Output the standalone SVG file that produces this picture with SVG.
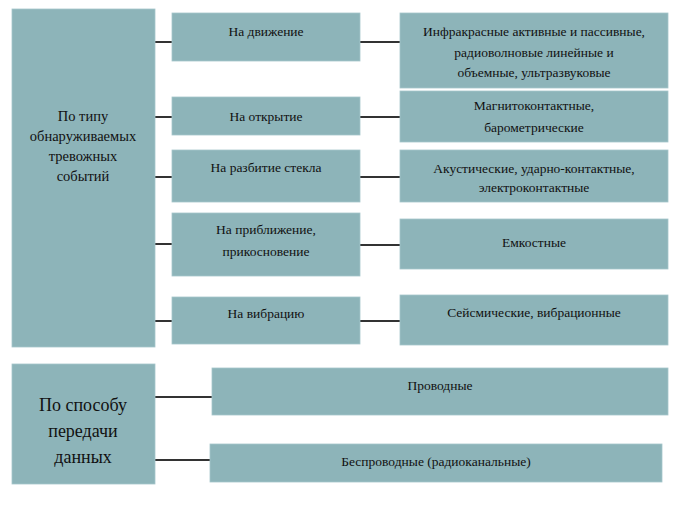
<svg xmlns="http://www.w3.org/2000/svg" width="682" height="510" viewBox="0 0 682 510">
<style>
.box{fill:#8db4b9;stroke:#a6c6ca;stroke-width:0.8}
.t{font-size:13.5px}
.tl{font-size:14.5px}
.tb{font-size:18px}
.c{stroke:#333;stroke-width:2;fill:none}
</style>
<rect width="682" height="510" fill="#fff"/>
<g id="connectors">
<path class="c" d="M155 42H172M155 117H172M155 177H172M155 244H172M155 321H172"/>
<path class="c" d="M360 42H400M360 117H400M360 177H400M360 245H400M360 321H400"/>
<path class="c" d="M155 397H212M155 460H210"/>
</g>
<g font-family="Liberation Serif, DejaVu Serif, serif" fill="#111" text-anchor="middle">
<g id="n-type"><rect class="box" x="12" y="9" width="143" height="338"/>
<text class="tl" x="83" y="121">По типу</text><text class="tl" x="83" y="141">обнаруживаемых</text><text class="tl" x="83" y="161">тревожных</text><text class="tl" x="83" y="181">событий</text></g>
<g id="n-move"><rect class="box" x="172" y="13" width="188" height="48"/><text class="t" x="266" y="36">На движение</text></g>
<g id="n-open"><rect class="box" x="172" y="97" width="188" height="38"/><text class="t" x="266" y="121">На открытие</text></g>
<g id="n-glass"><rect class="box" x="172" y="150" width="188" height="52"/><text class="t" x="266" y="172">На разбитие стекла</text></g>
<g id="n-approach"><rect class="box" x="172" y="213" width="188" height="63"/><text class="t" x="266" y="234">На приближение,</text><text class="t" x="266" y="256">прикосновение</text></g>
<g id="n-vibr"><rect class="box" x="172" y="297" width="188" height="47"/><text class="t" x="266" y="318">На вибрацию</text></g>
<g id="n-ir"><rect class="box" x="400" y="13" width="268" height="75"/><text class="t" x="534" y="36">Инфракрасные активные и пассивные,</text><text class="t" x="534" y="57">радиоволновые линейные и</text><text class="t" x="534" y="77">объемные, ультразвуковые</text></g>
<g id="n-magn"><rect class="box" x="400" y="91" width="268" height="51"/><text class="t" x="534" y="110">Магнитоконтактные,</text><text class="t" x="534" y="132">барометрические</text></g>
<g id="n-acoust"><rect class="box" x="400" y="150" width="268" height="52"/><text class="t" x="534" y="173">Акустические, ударно-контактные,</text><text class="t" x="534" y="192">электроконтактные</text></g>
<g id="n-cap"><rect class="box" x="400" y="219" width="268" height="50"/><text class="t" x="534" y="247">Емкостные</text></g>
<g id="n-seis"><rect class="box" x="400" y="295" width="268" height="50"/><text class="t" x="534" y="317">Сейсмические, вибрационные</text></g>
<g id="n-trans"><rect class="box" x="12" y="364" width="143" height="120"/><text class="tb" x="83" y="411">По способу</text><text class="tb" x="83" y="437">передачи</text><text class="tb" x="83" y="463">данных</text></g>
<g id="n-wired"><rect class="box" x="212" y="368" width="456" height="47"/><text class="t" x="440" y="390">Проводные</text></g>
<g id="n-wireless"><rect class="box" x="210" y="444" width="452" height="38"/><text class="t" x="436" y="466">Беспроводные (радиоканальные)</text></g>
</g>
</svg>
